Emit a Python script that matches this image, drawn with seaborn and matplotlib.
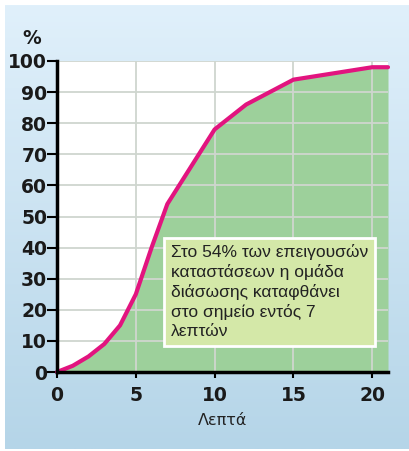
import numpy as np
import seaborn as sns
import matplotlib.pyplot as plt
from matplotlib.colors import LinearSegmentedColormap

# data
minutes = [0, 1, 2, 3, 4, 5, 6, 7, 10, 12, 15, 20, 21]
percent = [0, 2, 5, 9, 15, 25, 40, 54, 78, 86, 94, 98, 98]
x_ticks = [0, 5, 10, 15, 20]
y_ticks = [0, 10, 20, 30, 40, 50, 60, 70, 80, 90, 100]
note = "Στο 54% των επειγουσών\nκαταστάσεων η ομάδα\nδιάσωσης καταφθάνει\nστο σημείο εντός 7\nλεπτών"

sns.set_theme(style="white")
plt.rcParams['font.family'] = ['DejaVu Sans']

fig = plt.figure(figsize=(4.09, 4.51), dpi=100, facecolor="white")

# light blue gradient panel behind everything
bg = fig.add_axes([5 / 409, 2 / 451, 404 / 409, 444 / 451], zorder=0)
grad = np.linspace(0, 1, 256).reshape(-1, 1)
cmap = LinearSegmentedColormap.from_list("bg", ["#e0f0fb", "#b5d5e8"])
bg.imshow(grad, aspect="auto", cmap=cmap, extent=[0, 1, 0, 1])
bg.set_axis_off()

ax = fig.add_axes([57 / 409, 1 - 372 / 451, 331 / 409, 311 / 451], zorder=1)
ax.set_facecolor("white")

ax.fill_between(minutes, percent, 0, color="#9dd09b", zorder=1, linewidth=0)
for v in y_ticks[1:]:
    ax.axhline(v, color="#cfd6cf", linewidth=1.3, zorder=2)
for v in x_ticks[1:]:
    ax.axvline(v, color="#cfd6cf", linewidth=1.3, zorder=2)
sns.lineplot(x=minutes, y=percent, ax=ax, color="#e2147f", linewidth=3,
             zorder=4, clip_on=False)

ax.set_xlim(0, 21)
ax.set_ylim(0, 100)
ax.set_xticks(x_ticks)
ax.set_yticks(y_ticks)
for s in ["top", "right"]:
    ax.spines[s].set_visible(False)
for s in ["left", "bottom"]:
    ax.spines[s].set_color("black")
    ax.spines[s].set_linewidth(2.5)
    ax.spines[s].set_zorder(5)
ax.tick_params(axis="y", direction="out", length=7, width=1.5, color="black", pad=0,
               labelsize=13.5, labelcolor="#1a1a1a")
ax.tick_params(axis="x", direction="out", length=4, width=1.5, color="black", pad=6,
               labelsize=13.5, labelcolor="#1a1a1a")
ax.tick_params(left=True, bottom=True)
for lbl in ax.get_xticklabels() + ax.get_yticklabels():
    lbl.set_fontweight("bold")

ax.set_xlabel("Λεπτά", fontsize=11.5, color="#222222", labelpad=6)
ax.set_ylabel("")
fig.text(32 / 409, 1 - 38 / 451, "%", fontsize=13.5, fontweight="bold",
         color="#1a1a1a", ha="center", va="center")

ax.text(0.345, 0.41, note, transform=ax.transAxes, fontsize=12.5,
        family=["Liberation Sans", "DejaVu Sans"],
        color="#222222", ha="left", va="top", linespacing=1.3, zorder=6,
        bbox=dict(boxstyle="square,pad=0.4", facecolor="#d4e8a8",
                  edgecolor="white", linewidth=2))

fig.savefig("out.png", dpi=100)
